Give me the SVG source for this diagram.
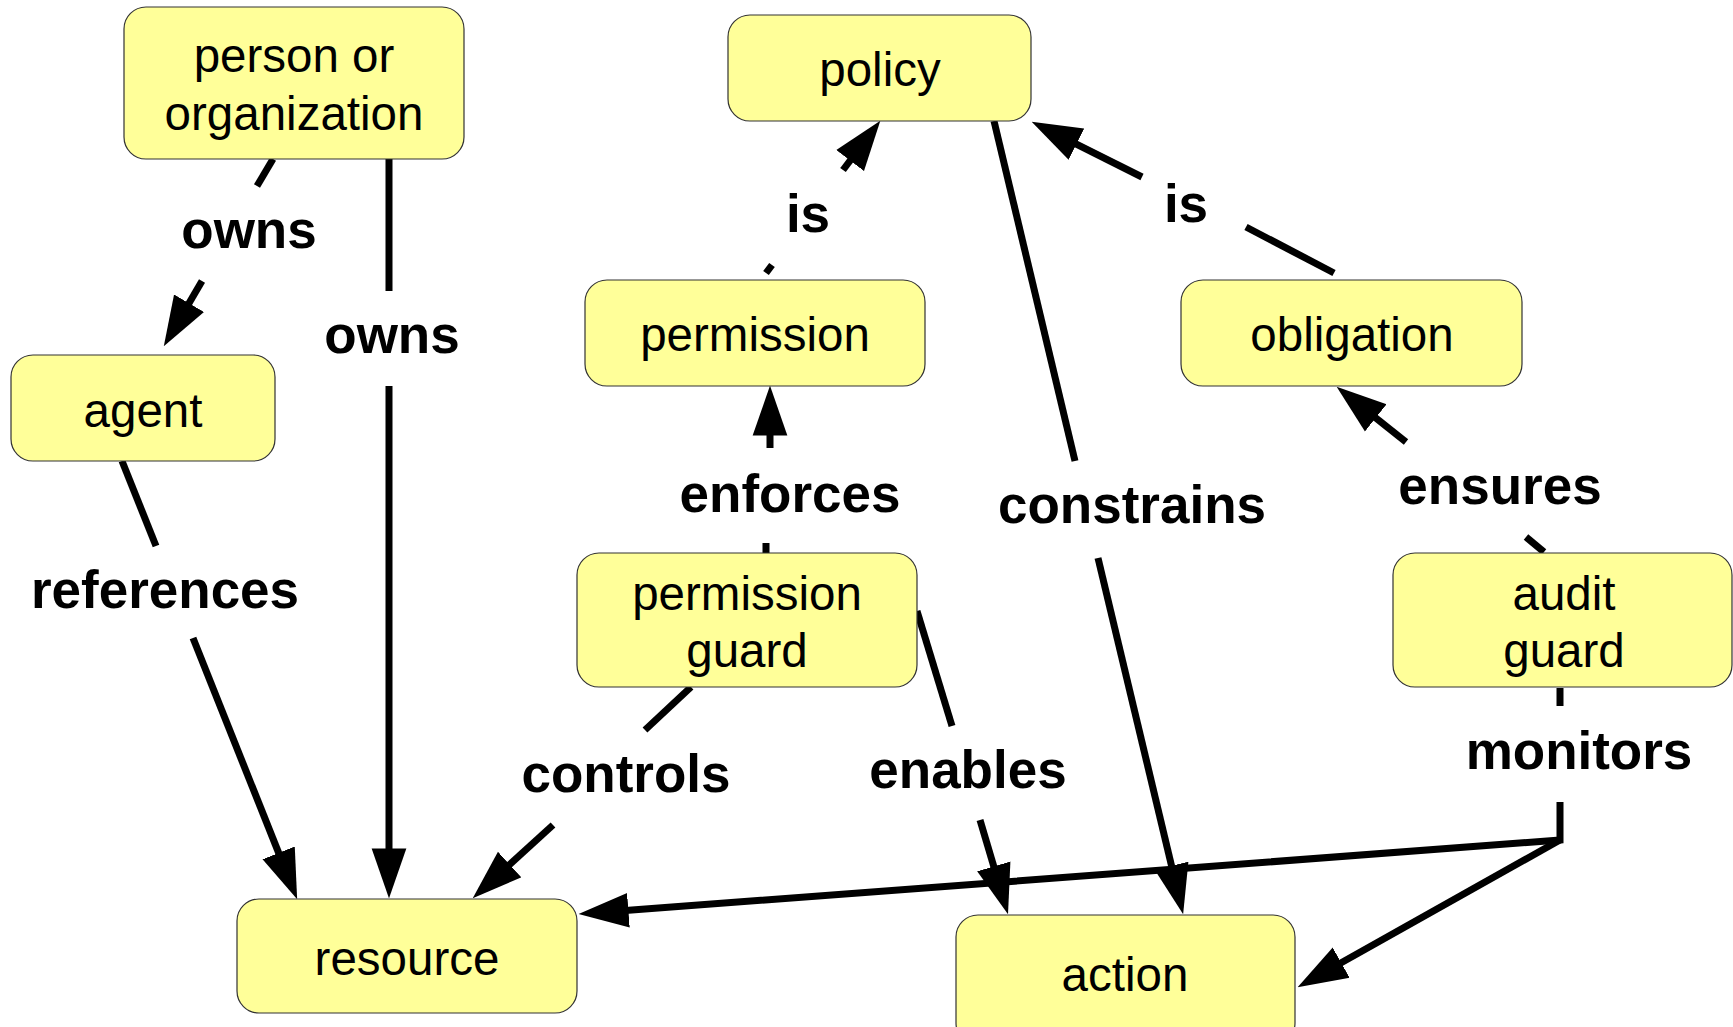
<svg xmlns="http://www.w3.org/2000/svg" width="1733" height="1027" viewBox="0 0 1733 1027">
<style>
.node rect{fill:#ffff99;stroke:#333;stroke-width:1.2}
.node text{font-family:"Liberation Sans",Arial,sans-serif;font-size:47.5px;fill:#000;text-anchor:middle}
.lbl{font-family:"Liberation Sans",Arial,sans-serif;font-size:53px;font-weight:bold;fill:#000;text-anchor:middle}
.c path{fill:none;stroke:#000;stroke-width:7;stroke-linejoin:miter}
.c path.a{marker-end:url(#arr)}
</style>
<defs>
<marker id="arr" markerUnits="userSpaceOnUse" markerWidth="50" markerHeight="36" viewBox="0 0 49 34" refX="29" refY="17" orient="auto">
<path d="M0,0 L49,17 L0,34 Z" fill="#000"/>
</marker>
</defs>
<rect width="1733" height="1027" fill="#fff"/>
<g class="c" id="connectors">
<path d="M273,159 L257,186"/>
<path class="a" d="M202,281 L174.1,328.7"/>
<path d="M389,159 L389,291"/>
<path class="a" d="M389,386 L389,878"/>
<path d="M122,461 L156,546"/>
<path class="a" d="M193,638 L289.6,880.4"/>
<path d="M766,273 L772,265"/>
<path class="a" d="M843,170 L868,137"/>
<path d="M1334,273 L1246,227"/>
<path class="a" d="M1142,177 L1049.9,130.9"/>
<path d="M994,121 L1075,461"/>
<path class="a" d="M1098,558 L1178.4,894.5"/>
<path d="M766,553 L766,543"/>
<path class="a" d="M770,448 L770,406"/>
<path d="M1544,552 L1526,537"/>
<path class="a" d="M1406,442 L1352.6,399.5"/>
<path d="M691,687 L645,730"/>
<path class="a" d="M553,825 L487.8,884.5"/>
<path d="M917,611 L952,726"/>
<path class="a" d="M980,820 L1002.2,894.8"/>
<path d="M1560,688 L1560,706"/>
<path class="a" d="M1560,802 L1560,840 L598.9,912.5"/>
<path class="a" d="M1560,840 L1315.4,977.2"/>
</g>
<g id="labels">
<text class="lbl" x="249" y="248">owns</text>
<text class="lbl" x="392" y="353">owns</text>
<text class="lbl" x="808" y="232">is</text>
<text class="lbl" x="1186" y="222">is</text>
<text class="lbl" x="790" y="512">enforces</text>
<text class="lbl" x="1132" y="523">constrains</text>
<text class="lbl" x="1500" y="504">ensures</text>
<text class="lbl" x="165" y="608">references</text>
<text class="lbl" x="626" y="792">controls</text>
<text class="lbl" x="968" y="788">enables</text>
<text class="lbl" x="1579" y="769">monitors</text>
</g>
<g class="node" id="person"><rect x="124" y="7" width="340" height="152" rx="22"/><text x="294" y="72">person or</text><text x="294" y="130">organization</text></g>
<g class="node" id="policy"><rect x="728" y="15" width="303" height="106" rx="22"/><text x="880" y="86">policy</text></g>
<g class="node" id="permission"><rect x="585" y="280" width="340" height="106" rx="22"/><text x="755" y="351">permission</text></g>
<g class="node" id="obligation"><rect x="1181" y="280" width="341" height="106" rx="22"/><text x="1352" y="351">obligation</text></g>
<g class="node" id="agent"><rect x="11" y="355" width="264" height="106" rx="22"/><text x="143" y="427">agent</text></g>
<g class="node" id="permission-guard"><rect x="577" y="553" width="340" height="134" rx="22"/><text x="747" y="610">permission</text><text x="747" y="667">guard</text></g>
<g class="node" id="audit-guard"><rect x="1393" y="553" width="339" height="134" rx="22"/><text x="1564" y="610">audit</text><text x="1564" y="667">guard</text></g>
<g class="node" id="resource"><rect x="237" y="899" width="340" height="114" rx="22"/><text x="407" y="975">resource</text></g>
<g class="node" id="action"><rect x="956" y="915" width="339" height="130" rx="22"/><text x="1125" y="991">action</text></g>
</svg>
